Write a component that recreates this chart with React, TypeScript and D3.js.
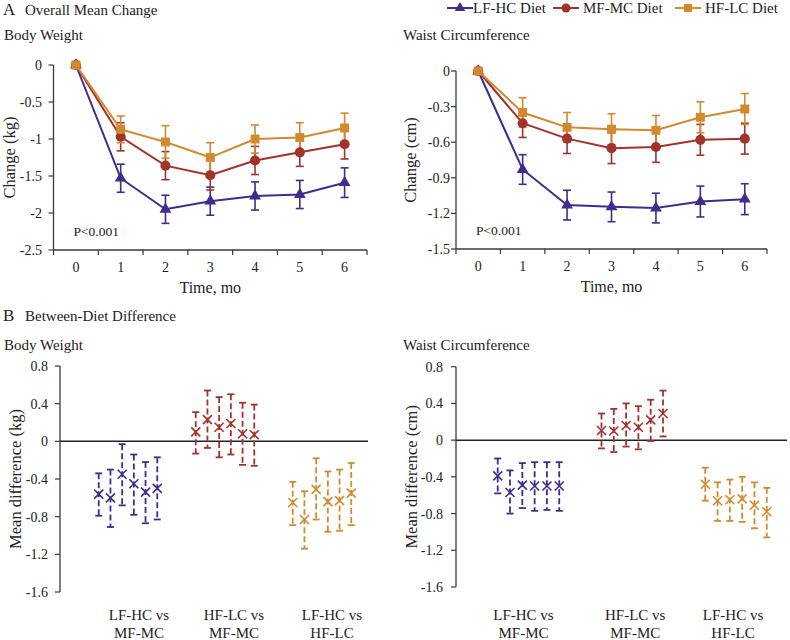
import React from 'react';
import * as d3 from 'd3';

const months = [0, 1, 2, 3, 4, 5, 6];
const dietNames = ['LF-HC Diet', 'MF-MC Diet', 'HF-LC Diet'];
const dietColors = ['#3f2c8e', '#a1322c', '#d3892f'];

// Body weight mean change (kg) and SE
const bwLF = [0, -1.53, -1.95, -1.84, -1.77, -1.75, -1.59];
const bwMF = [0, -0.97, -1.36, -1.49, -1.29, -1.18, -1.07];
const bwHF = [0, -0.87, -1.04, -1.25, -1.0, -0.98, -0.85];
const bwLFse = [0, 0.19, 0.19, 0.19, 0.19, 0.19, 0.2];
const bwMFse = [0, 0.19, 0.19, 0.2, 0.19, 0.19, 0.2];
const bwHFse = [0, 0.18, 0.22, 0.2, 0.19, 0.2, 0.2];

// Waist circumference mean change (cm) and SE
const wcLF = [0, -0.83, -1.13, -1.145, -1.155, -1.1, -1.08];
const wcMF = [0, -0.44, -0.57, -0.65, -0.64, -0.58, -0.57];
const wcHF = [0, -0.35, -0.475, -0.49, -0.5, -0.39, -0.32];
const wcLFse = [0, 0.125, 0.125, 0.125, 0.125, 0.13, 0.13];
const wcMFse = [0, 0.12, 0.125, 0.13, 0.13, 0.13, 0.13];
const wcHFse = [0, 0.125, 0.125, 0.13, 0.125, 0.13, 0.13];

const bwTicks = [0, -0.5, -1, -1.5, -2, -2.5];
const wcTicks = [0, -0.3, -0.6, -0.9, -1.2, -1.5];
const diffTicks = [0.8, 0.4, 0, -0.4, -0.8, -1.2, -1.6];

// Between-diet differences
const compLabels = [['LF-HC vs', 'MF-MC'], ['HF-LC vs', 'MF-MC'], ['LF-HC vs', 'HF-LC']];
const bwDiffMean = [
  [-0.56, -0.6, -0.35, -0.45, -0.54, -0.5],
  [0.1, 0.23, 0.15, 0.19, 0.08, 0.07],
  [-0.65, -0.83, -0.51, -0.64, -0.63, -0.55],
];
const bwDiffLo = [
  [-0.79, -0.91, -0.68, -0.78, -0.87, -0.83],
  [-0.13, -0.07, -0.17, -0.14, -0.25, -0.26],
  [-0.89, -1.14, -0.83, -0.96, -0.95, -0.89],
];
const bwDiffHi = [
  [-0.34, -0.3, -0.03, -0.14, -0.22, -0.17],
  [0.31, 0.54, 0.47, 0.5, 0.41, 0.39],
  [-0.43, -0.53, -0.18, -0.32, -0.3, -0.23],
];
const wcDiffMean = [
  [-0.39, -0.57, -0.49, -0.5, -0.5, -0.5],
  [0.105, 0.1, 0.16, 0.14, 0.22, 0.29],
  [-0.48, -0.66, -0.65, -0.64, -0.71, -0.78],
];
const wcDiffLo = [
  [-0.58, -0.8, -0.74, -0.77, -0.76, -0.77],
  [-0.09, -0.13, -0.07, -0.1, -0.01, 0.04],
  [-0.66, -0.88, -0.88, -0.89, -0.96, -1.06],
];
const wcDiffHi = [
  [-0.2, -0.33, -0.25, -0.24, -0.24, -0.24],
  [0.29, 0.34, 0.4, 0.37, 0.44, 0.54],
  [-0.3, -0.46, -0.43, -0.4, -0.46, -0.52],
];

const SERIF = '"Liberation Serif", "Times New Roman", serif';
const AXIS = '#3a3a3a';

const symTypes = [d3.symbolTriangle, d3.symbolCircle, d3.symbolSquare];
const symSizes = [60, 80, 80];

function Marker({ i, x, y, scale = 1 }: { i: number; x: number; y: number; scale?: number }) {
  const p = d3.symbol().type(symTypes[i]).size(symSizes[i] * scale)();
  return <path d={p || ''} transform={`translate(${x},${y})`} fill={dietColors[i]} />;
}

function LinePanel(props: {
  left: number; right: number; top: number; bottom: number;
  ticks: number[]; series: number[][]; ses: number[][];
  yLabel: string; labelRight: number; yLabelX: number;
}) {
  const { left, right, top, bottom, ticks, series, ses, yLabel, labelRight, yLabelX } = props;
  const y = d3.scaleLinear().domain([d3.min(ticks)!, d3.max(ticks)!]).range([bottom, top]);
  const x = d3.scaleBand<number>().domain(months).range([left, right]).padding(0);
  const cx = (m: number) => x(m)! + x.bandwidth() / 2;
  const line = d3.line<number>().x((_, k) => cx(months[k])).y((v) => y(v));
  const bounds = months.map((m) => x(m)!).concat([right]);
  return (
    <g>
      <line x1={left} x2={left} y1={top} y2={bottom} stroke={AXIS} strokeWidth={1.3} />
      <line x1={left} x2={right} y1={bottom} y2={bottom} stroke={AXIS} strokeWidth={1.3} />
      {ticks.map((t) => (
        <g key={t}>
          <line x1={left - 5} x2={left} y1={y(t)} y2={y(t)} stroke={AXIS} strokeWidth={1.2} />
          <text x={labelRight} y={y(t) + 5} textAnchor="end" fontFamily={SERIF} fontSize={14} fill="#222">
            {t === 0 ? '0' : String(t)}
          </text>
        </g>
      ))}
      {bounds.map((b, k) => (
        <line key={k} x1={b} x2={b} y1={bottom} y2={bottom + 5} stroke={AXIS} strokeWidth={1.2} />
      ))}
      {months.map((m) => (
        <text key={m} x={cx(m)} y={bottom + 22} textAnchor="middle" fontFamily={SERIF} fontSize={14} fill="#222">
          {m}
        </text>
      ))}
      <text x={(left + right) / 2} y={bottom + 43} textAnchor="middle" fontFamily={SERIF} fontSize={16} fill="#222">
        Time, mo
      </text>
      <text
        transform={`translate(${yLabelX},${(top + bottom) / 2}) rotate(-90)`}
        textAnchor="middle" fontFamily={SERIF} fontSize={16.5} fill="#222"
      >
        {yLabel}
      </text>
      <text x={left + 20} y={bottom - 14} fontFamily={SERIF} fontSize={13.5} fill="#222">P&lt;0.001</text>
      {series.map((s, i) => (
        <g key={i}>
          {s.map((v, k) =>
            ses[i][k] > 0 ? (
              <g key={k} stroke={dietColors[i]} strokeWidth={1.6}>
                <line x1={cx(months[k])} x2={cx(months[k])} y1={y(v + ses[i][k])} y2={y(v - ses[i][k])} />
                <line x1={cx(months[k]) - 4} x2={cx(months[k]) + 4} y1={y(v + ses[i][k])} y2={y(v + ses[i][k])} />
                <line x1={cx(months[k]) - 4} x2={cx(months[k]) + 4} y1={y(v - ses[i][k])} y2={y(v - ses[i][k])} />
              </g>
            ) : null
          )}
        </g>
      ))}
      {series.map((s, i) => (
        <g key={i}>
          <path d={line(s) || ''} fill="none" stroke={dietColors[i]} strokeWidth={2} />
          {s.map((v, k) => (
            <Marker key={k} i={i} x={cx(months[k])} y={y(v)} />
          ))}
        </g>
      ))}
    </g>
  );
}

function DiffPanel(props: {
  left: number; zeroRight: number; top: number; bottom: number;
  groupRange: [number, number]; inner: number;
  means: number[][]; los: number[][]; his: number[][];
  yLabel: string; labelRight: number; yLabelX: number; labelOffsets: number[];
}) {
  const { left, zeroRight, top, bottom, groupRange, inner, means, los, his, yLabel, labelRight, yLabelX, labelOffsets } = props;
  const y = d3.scaleLinear().domain([-1.6, 0.8]).range([bottom, top]);
  const g = d3.scaleBand<number>().domain([0, 1, 2]).range(groupRange).padding(0);
  const idx = [0, 1, 2, 3, 4, 5];
  return (
    <g>
      <line x1={left} x2={left} y1={top} y2={bottom} stroke={AXIS} strokeWidth={1.3} />
      {diffTicks.map((t) => (
        <g key={t}>
          <line x1={left - 5} x2={left} y1={y(t)} y2={y(t)} stroke={AXIS} strokeWidth={1.2} />
          <text x={labelRight} y={y(t) + 5} textAnchor="end" fontFamily={SERIF} fontSize={14} fill="#222">
            {t === 0 ? '0' : String(t)}
          </text>
        </g>
      ))}
      <line x1={left} x2={zeroRight} y1={y(0)} y2={y(0)} stroke="#222" strokeWidth={1.5} />
      <text
        transform={`translate(${yLabelX},${(top + bottom) / 2}) rotate(-90)`}
        textAnchor="middle" fontFamily={SERIF} fontSize={16.5} fill="#222"
      >
        {yLabel}
      </text>
      {means.map((grp, gi) => {
        const c = g(gi)! + g.bandwidth() / 2;
        const p = d3.scalePoint<number>().domain(idx).range([c - inner * 2.5, c + inner * 2.5]);
        const col = dietColors[gi];
        return (
          <g key={gi} stroke={col}>
            {grp.map((v, k) => {
              const px = p(k)!;
              const hy = y(his[gi][k]);
              const ly = y(los[gi][k]);
              const my = y(v);
              return (
                <g key={k}>
                  <line x1={px} x2={px} y1={hy} y2={ly} strokeWidth={1.8} strokeDasharray="6,3" />
                  <line x1={px - 3.5} x2={px + 3.5} y1={hy} y2={hy} strokeWidth={1.8} />
                  <line x1={px - 3.5} x2={px + 3.5} y1={ly} y2={ly} strokeWidth={1.8} />
                  <line x1={px - 4.5} x2={px + 4.5} y1={my - 4.5} y2={my + 4.5} strokeWidth={1.6} />
                  <line x1={px - 4.5} x2={px + 4.5} y1={my + 4.5} y2={my - 4.5} strokeWidth={1.6} />
                </g>
              );
            })}
            <text x={c + labelOffsets[gi]} y={620} textAnchor="middle" fontFamily={SERIF} fontSize={15} fill="#222" stroke="none">
              {compLabels[gi][0]}
            </text>
            <text x={c + labelOffsets[gi]} y={638} textAnchor="middle" fontFamily={SERIF} fontSize={15} fill="#222" stroke="none">
              {compLabels[gi][1]}
            </text>
          </g>
        );
      })}
    </g>
  );
}

export default function App() {
  const legendLine = [447, 553, 675];
  const legendText = [473, 583, 705];
  return (
    <svg width={790} height={640} style={{ position: 'absolute', left: 0, top: 0, background: '#fff' }}>
      <rect width={790} height={640} fill="#fff" />
      <text x={3} y={15} fontFamily={SERIF} fontSize={17} fill="#222">A</text>
      <text x={25} y={15} fontFamily={SERIF} fontSize={15} fill="#222">Overall Mean Change</text>
      <text x={4} y={40} fontFamily={SERIF} fontSize={15} fill="#222">Body Weight</text>
      <text x={403} y={40} fontFamily={SERIF} fontSize={15} fill="#222">Waist Circumference</text>

      {dietNames.map((n, i) => (
        <g key={n}>
          <line x1={legendLine[i]} x2={legendLine[i] + 26} y1={8} y2={8} stroke={dietColors[i]} strokeWidth={2} />
          <Marker i={i} x={legendLine[i] + 13} y={8} scale={0.8} />
          <text x={legendText[i]} y={13} fontFamily={SERIF} fontSize={15} fill="#222">{n}</text>
        </g>
      ))}

      <LinePanel left={53.5} right={367} top={65} bottom={250} ticks={bwTicks}
        series={[bwLF, bwMF, bwHF]} ses={[bwLFse, bwMFse, bwHFse]}
        yLabel="Change (kg)" labelRight={42} yLabelX={15} />
      <LinePanel left={456} right={767} top={71} bottom={249} ticks={wcTicks}
        series={[wcLF, wcMF, wcHF]} ses={[wcLFse, wcMFse, wcHFse]}
        yLabel="Change (cm)" labelRight={450} yLabelX={416} />

      <text x={3} y={321} fontFamily={SERIF} fontSize={17} fill="#222">B</text>
      <text x={25} y={321} fontFamily={SERIF} fontSize={15} fill="#222">Between-Diet Difference</text>
      <text x={4} y={350} fontFamily={SERIF} fontSize={15} fill="#222">Body Weight</text>
      <text x={403} y={350} fontFamily={SERIF} fontSize={15} fill="#222">Waist Circumference</text>

      <DiffPanel left={60} zeroRight={368} top={366} bottom={592} groupRange={[79.5, 370.5]} inner={11.7}
        means={bwDiffMean} los={bwDiffLo} his={bwDiffHi}
        yLabel="Mean difference (kg)" labelRight={48} yLabelX={21} labelOffsets={[11, 9, 10]} />
      <DiffPanel left={456} zeroRight={787} top={366.7} bottom={587} groupRange={[476.6, 787.9]} inner={12.3}
        means={wcDiffMean} los={wcDiffLo} his={wcDiffHi}
        yLabel="Mean difference (cm)" labelRight={443} yLabelX={417} labelOffsets={[-5, 3, -3]} />
    </svg>
  );
}
